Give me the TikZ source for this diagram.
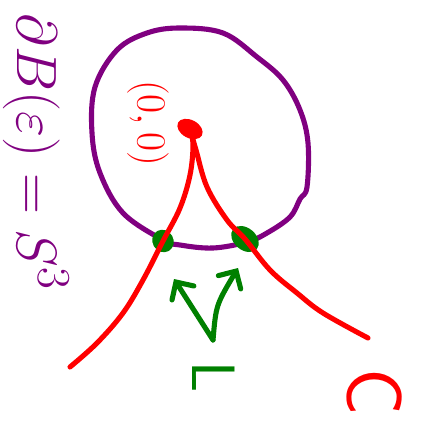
\documentclass[tikz,border=0pt]{standalone}
\usetikzlibrary{arrows.meta, shapes.geometric}
\usepackage{amsmath}
\definecolor{InkPurple}{HTML}{800080}
\definecolor{InkRed}{HTML}{FF0000}
\definecolor{InkGreen}{HTML}{008000}
\tikzset{
  ball/.style={draw=InkPurple, line width=2.9pt, line cap=round, line join=round},
  knot/.style={draw=InkRed, line width=2.9pt, line cap=round, line join=round},
  blob/.style={ellipse, inner sep=0pt, draw=none},
  ptr/.style={draw=InkGreen, line width=2.9pt, line cap=round,
    -{Straight Barb[length=2.6mm, width=5.2mm, line cap=round]}},
  hand/.style={inner sep=0pt, font=\Huge, rotate=-90},
}

\begin{document}
\begin{tikzpicture}[x=0.02cm, y=-0.02cm]
    \useasboundingbox (0,0) rectangle (424,435);
    % boundary sphere
    \draw[ball] plot[smooth cycle, tension=0.6] coordinates {(180,28) (223,33) (257,57) (283,80) (300,110) (308,143)
      (307,187) (300,199) (290,217) (267,233) (247,242) (213,248) (180,245) (163,240) (123,213)
      (100,173) (92,133) (95,87) (117,50) (147,33)};
    \node[blob, fill=InkRed, minimum width=0.54cm, minimum height=0.36cm, rotate=-28] (orig) at (190,129) {};
    \node[blob, fill=InkGreen, minimum width=0.46cm, minimum height=0.42cm, rotate=-60] (hitL) at (163,241) {};
    \node[blob, fill=InkGreen, minimum width=0.62cm, minimum height=0.44cm, rotate=-40] (hitR) at (245,239) {};
    \coordinate (endL) at (70,367);
    \coordinate (endR) at (368,338);
    % the two arcs of the curve
    \draw[knot] plot[smooth, tension=0.6] coordinates {(orig.center) (193,145) (190,175) (180,208) (hitL.center)
      (143,280) (123,313) (97,343) (endL)};
    \draw[knot] plot[smooth, tension=0.6] coordinates {(orig.center) (196,150) (207,187) (227,220) (hitR.center)
      (270,270) (297,293) (323,313) (endR)};
    % labels
    \node[hand, scale=1.3, text=InkPurple] (bdry) at (36,152) {$\partial B(\varepsilon) = S^3$};
    \node[hand, scale=0.95, text=InkRed] (zero) at (148,123) {$(0,0)$};
    \node[hand, scale=1.4, text=InkGreen, font=\Huge\sffamily] (ell) at (214,377) {L};
    \node[hand, scale=1.8, text=InkRed, font=\Huge\sffamily] (cee) at (375,392) {C};
    % arrows to the link
    \coordinate (fork) at (213,340);
    \coordinate (tipL) at (174,279);
    \coordinate (tipR) at (238,268);
    \draw[ptr] (fork) -- (tipL);
    \draw[ptr] (fork) .. controls (216,305) .. (tipR);
\end{tikzpicture}
\end{document}
